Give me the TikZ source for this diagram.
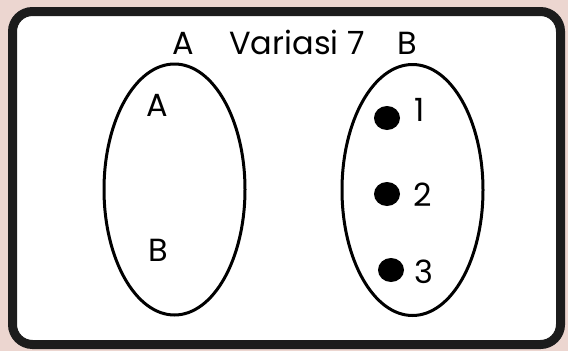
\documentclass[tikz,border=0pt]{standalone}
\usepackage{fontspec}
\setmainfont{Poppins}
\usetikzlibrary{shapes.geometric}
\definecolor{bgpink}{RGB}{236,214,208}
\definecolor{frameblack}{RGB}{28,28,28}
\begin{document}
\begin{tikzpicture}[x=1pt,y=-1pt,
  lbl/.style={font=\fontsize{32}{32}\selectfont, anchor=base, inner sep=0pt, text=black},
  setellipse/.style={draw=black, line width=3pt, ellipse, minimum width=141pt, minimum height=251pt, inner sep=0pt},
  dotnode/.style={fill=black, ellipse, minimum width=26pt, minimum height=24pt, inner sep=0pt}]
\fill[bgpink] (0,0) rectangle (568,351);
\useasboundingbox (0,0) rectangle (568,351);
\draw[frameblack, fill=white, line width=9pt, rounded corners=20pt] (12.5,11.5) rectangle (560.5,344.5);
% titles
\node[lbl] (tA) at (183,54) {A};
\node[lbl] (title) at (297,54) {Variasi 7};
\node[lbl] (tB) at (407,54) {B};
% sets
\node[setellipse] (setA) at (174.5,189.5) {};
\node[setellipse] (setB) at (412.5,190) {};
% left labels
\node[lbl] (a) at (157,116) {A};
\node[lbl] (b) at (158,261) {B};
% right elements
\node[dotnode] (d1) at (387,118) {};
\node[dotnode] (d2) at (387,194) {};
\node[dotnode] (d3) at (391,270) {};
\node[lbl] (n1) at (420,121) {1};
\node[lbl] (n2) at (423,206) {2};
\node[lbl] (n3) at (424,283) {3};
\end{tikzpicture}
\end{document}
